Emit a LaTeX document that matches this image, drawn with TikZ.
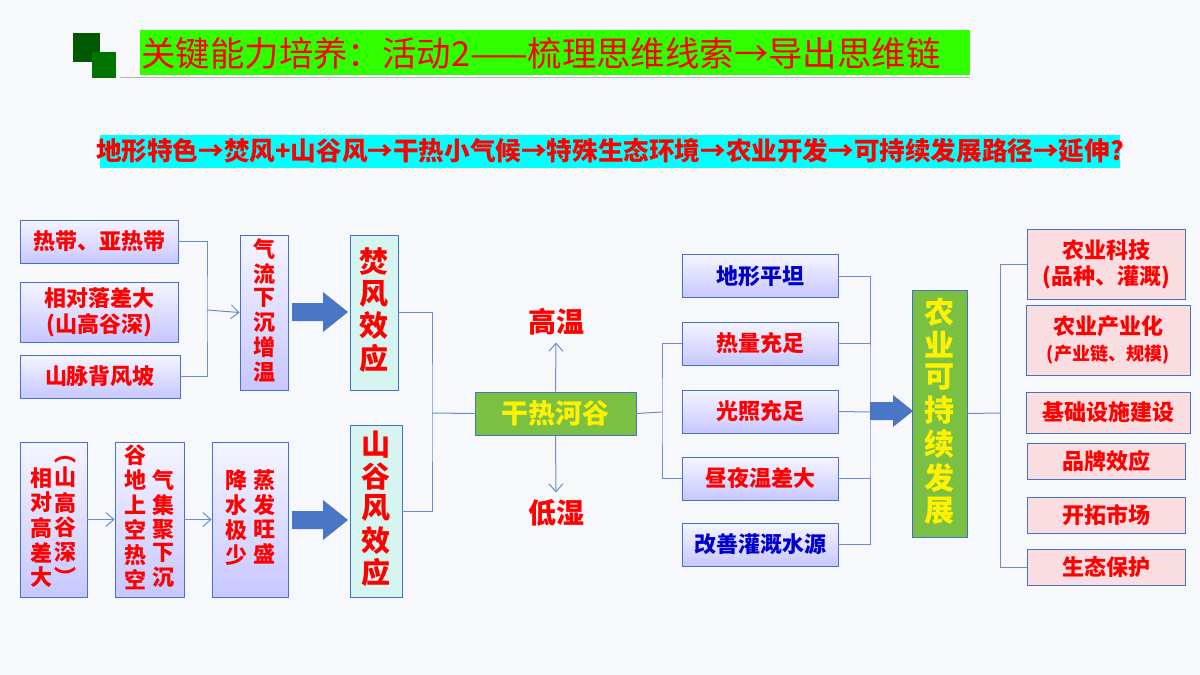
\documentclass[tikz,border=0pt]{standalone}
\usepackage{fontspec}
\setmainfont{Noto Sans CJK SC}
\usetikzlibrary{arrows.meta, positioning}
\definecolor{bgc}{HTML}{F7F8FC}
\definecolor{boxb}{HTML}{4472C4}
\definecolor{fenc}{HTML}{D6F4F0}
\definecolor{grnc}{HTML}{7AC143}
\definecolor{pinkc}{HTML}{FADDE1}
\definecolor{bigc}{HTML}{4A76C6}
\definecolor{aquac}{HTML}{00FFFF}
\newcommand{\vt}[1]{{\renewcommand{\arraystretch}{0.78}\begin{tabular}[t]{@{}c@{}}#1\end{tabular}}}
\tikzset{
  bbox/.style={draw=boxb, top color=blue!4, bottom color=blue!22, font=\bfseries\fontsize{11}{13}\selectfont, text=red, inner sep=0pt, align=center},
  pbox/.style={draw=boxb, fill=pinkc, font=\bfseries\fontsize{11}{13}\selectfont, text=red, inner sep=0pt, align=center},
  link/.style={draw=boxb!80, line width=0.5pt},
  thin arrow/.style={link, -{Straight Barb[length=4pt,width=7pt]}},
}
\begin{document}
\begin{tikzpicture}[x=0.5pt, y=-0.5pt]
  \useasboundingbox (0,0) rectangle (1200,675);
  \fill[bgc] (0,0) rectangle (1200,675);

  % Title
  \fill[green!35!black] (73,33) rectangle (100,62);
  \fill[green!45!black] (92,52) rectangle (116,78);
  \fill[green!75!lime] (140,30) rectangle (970,75);
  \draw[gray!60] (120,77) -- (970,77);
  \node[text=red, font=\fontsize{17.2}{19}\selectfont, anchor=west, inner sep=0pt] (title) at (141,53) {关键能力培养：活动2——梳理思维线索→导出思维链};
  \fill[aquac] (100,135) rectangle (1120,168);
  \node[text=red, font=\bfseries\fontsize{12.8}{14}\selectfont] (chain) at (610,151) {地形特色→焚风+山谷风→干热小气候→特殊生态环境→农业开发→可持续发展路径→延伸?};

  % Foehn branch
  \node[bbox, minimum width=79pt, minimum height=21.5pt] (hot) at (99,241.5) {热带、亚热带};
  \node[bbox, minimum width=79pt, minimum height=30pt] (drop) at (99,312) {相对落差大\\(山高谷深)};
  \node[bbox, minimum width=80pt, minimum height=21.5pt] (lee) at (100,376.5) {山脉背风坡};
  \node[bbox, minimum width=24pt, minimum height=77.5pt] (sink) at (264,312.5) {\vt{气\\流\\下\\沉\\增\\温}};
  \node[bbox, top color=fenc, bottom color=fenc, minimum width=24pt, minimum height=77.5pt, font=\bfseries\fontsize{14.5}{16}\selectfont] (foehn) at (374,312.5) {\vt{焚\\风\\效\\应}};
  \coordinate (fj) at (207,310);
  \draw[link] (hot.east) -| (fj) |- (lee.east);
  \draw[thin arrow] (fj) -- (sink.west);

  % Valley wind branch
  \node[bbox, minimum width=33.5pt, minimum height=77.5pt] (relief) at (53.5,519.5) {\vt{\\相\\对\\高\\差\\大}\hspace{1pt}\vt{︵\\山\\高\\谷\\深\\︶}};
  \node[bbox, minimum width=34.5pt, minimum height=77.5pt] (air) at (149.5,519.5) {\vt{谷\\地\\上\\空\\热\\空}\hspace{3pt}\vt{\\气\\集\\聚\\下\\沉}};
  \node[bbox, minimum width=38pt, minimum height=77.5pt] (evap) at (250,519.5) {\vt{降\\水\\极\\少}\hspace{3pt}\vt{蒸\\发\\旺\\盛}};
  \node[bbox, top color=fenc, bottom color=fenc, minimum width=26pt, minimum height=86pt, font=\bfseries\fontsize{14.5}{16}\selectfont] (valley) at (376,511) {\vt{山\\谷\\风\\效\\应}};
  \draw[thin arrow] (relief.east) -- (air.west);
  \draw[thin arrow] (air.east) -- (evap.west);

  % Big arrows
  \foreach \y in {312,520}{
    \fill[bigc] (292,\y-9) -- (323,\y-9) -- (323,\y-20) -- (348,\y) -- (323,\y+20) -- (323,\y+9) -- (292,\y+9) -- cycle;
  }

  % Dry-hot valley
  \node[draw=boxb, fill=grnc, text=yellow, font=\bfseries\fontsize{13.5}{15}\selectfont, minimum width=80.5pt, minimum height=21.5pt, inner sep=0pt] (dry) at (555.5,413.5) {干热河谷};
  \coordinate (vj) at (432,413);
  \draw[link] (foehn.east) -| (vj) |- (valley.east);
  \draw[link] (vj) -- (dry.west);
  \node[text=red, font=\bfseries\fontsize{14}{16}\selectfont] (warm) at (556,322) {高温};
  \node[text=red, font=\bfseries\fontsize{14}{16}\selectfont] (dryair) at (556,513) {低湿};
  \draw[thin arrow] (dry.north) -- (warm.south);
  \draw[thin arrow] (dry.south) -- (dryair.north);

  % Conditions
  \node[bbox, text=blue!80!black, minimum width=78pt, minimum height=21.5pt] (flat) at (760,276) {地形平坦};
  \node[bbox, minimum width=78pt, minimum height=21.5pt] (heat) at (760,343.5) {热量充足};
  \node[bbox, minimum width=78pt, minimum height=21.5pt] (light) at (760,411.5) {光照充足};
  \node[bbox, minimum width=78pt, minimum height=21.5pt] (diurnal) at (760,478.5) {昼夜温差大};
  \node[bbox, text=blue!80!black, minimum width=78pt, minimum height=21.5pt] (water) at (760,544.5) {改善灌溉水源};
  \coordinate (cj) at (662,412);
  \draw[link] (dry.east) -- (cj);
  \draw[link] (heat.west) -| (cj) |- (diurnal.west);
  \coordinate (rj) at (870,412);
  \draw[link] (flat.east) -| (rj) |- (water.east);
  \draw[link] (heat.east) -- (heat.east -| rj);
  \draw[link] (light.east) -- (rj);
  \draw[link] (diurnal.east) -- (diurnal.east -| rj);
  \fill[bigc] (870,402) -- (893,402) -- (893,395) -- (913,411) -- (893,427) -- (893,420) -- (870,420) -- cycle;

  % Sustainable development
  \node[draw=boxb, fill=grnc, text=yellow, font=\bfseries\fontsize{15}{17}\selectfont, minimum width=27.5pt, minimum height=123.5pt, inner sep=0pt] (sust) at (939.5,413.5) {\vt{农\\业\\可\\持\\续\\发\\展}};

  % Measures
  \node[pbox, minimum width=79pt, minimum height=35pt] (tech) at (1106,264) {农业科技\\(品种、灌溉)};
  \node[pbox, minimum width=82pt, minimum height=35pt] (indus) at (1108,340) {农业产业化\\{\fontsize{9}{11}\selectfont(产业链、规模)}};
  \node[pbox, minimum width=82pt, minimum height=20.5pt] (infra) at (1108,412.5) {基础设施建设};
  \node[pbox, minimum width=79pt, minimum height=18pt] (brand) at (1106,461) {品牌效应};
  \node[pbox, minimum width=79pt, minimum height=18pt] (market) at (1106,515) {开拓市场};
  \node[pbox, minimum width=79pt, minimum height=18pt] (eco) at (1106,567) {生态保护};
  \coordinate (mj) at (1000,413);
  \draw[link] (sust.east) -- (mj);
  \draw[link] (tech.west) -| (mj) |- (eco.west);
\end{tikzpicture}
\end{document}
